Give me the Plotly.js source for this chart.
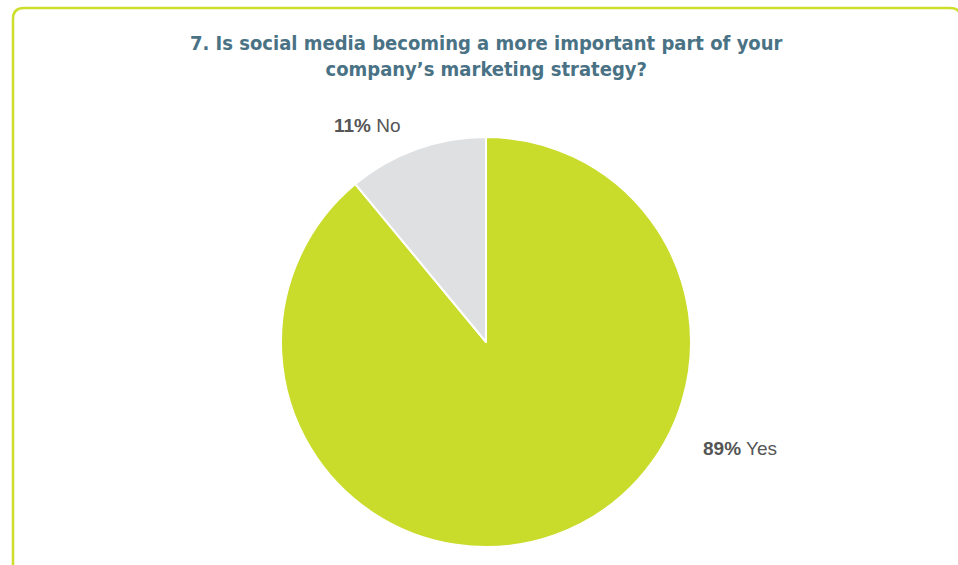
<!DOCTYPE html>
<html>
<head>
<meta charset="utf-8">
<script src="https://cdn.plot.ly/plotly-3.0.1.min.js"></script>
<style>html,body{margin:0;padding:0;background:#fff;}#chart{width:958px;height:565px;}</style>
</head>
<body>
<div id="chart"></div>
<script>
const labels = ["Yes", "No"];
const values = [89, 11];
const colors = ["#c9dc2b", "#dfe0e2"];
const titleText = "7. Is social media becoming a more important part of your<br>company’s marketing strategy?";

const W = 958, H = 565;
const px = x => x / W;
const py = y => 1 - y / H;

function borderPath() {
  const pts = [
    ["M", 13, 580], ["L", 13, 19], ["Q", 13, 8, 24, 8], ["L", 950, 8], ["Q", 961, 8, 961, 19], ["L", 961, 580]
  ];
  return pts.map(p => {
    const c = [];
    for (let i = 1; i < p.length; i += 2) c.push(px(p[i]).toFixed(5) + "," + py(p[i + 1]).toFixed(5));
    return p[0] + c.join(" ");
  }).join(" ");
}

const labelPos = {"No": [367, 126], "Yes": [740, 449]};
const annotations = labels.map((l, i) => ({
  xref: "paper", yref: "paper",
  x: px(labelPos[l][0]), y: py(labelPos[l][1]),
  xanchor: "center", yanchor: "middle", showarrow: false,
  text: "<b>" + values[i] + "%</b> " + l,
  font: {family: "Liberation Sans, Arial, sans-serif", size: 19, color: "#555555"}
}));

annotations.push({
  xref: "paper", yref: "paper",
  x: px(486), y: py(56), xanchor: "center", yanchor: "middle", showarrow: false,
  align: "center",
  text: "<b>" + titleText + "</b>",
  font: {family: "DejaVu Sans Condensed, DejaVu Sans, sans-serif", size: 20, color: "#4a7285"}
});

const data = [{
  type: "pie",
  labels: labels,
  values: values,
  sort: false,
  direction: "clockwise",
  rotation: 0,
  marker: {colors: colors, line: {color: "#ffffff", width: 2}},
  textinfo: "none",
  hoverinfo: "label+percent",
  showlegend: false,
  domain: {x: [px(281), px(691)], y: [py(547), py(137)]}
}];

const layout = {
  width: W, height: H,
  margin: {l: 0, r: 0, t: 0, b: 0},
  paper_bgcolor: "#ffffff",
  showlegend: false,
  annotations: annotations,
  shapes: [{
    type: "path", xref: "paper", yref: "paper",
    path: borderPath(),
    line: {color: "#cddf2c", width: 2.5}
  }]
};

Plotly.newPlot("chart", data, layout, {displayModeBar: false, staticPlot: true});
</script>
</body>
</html>
